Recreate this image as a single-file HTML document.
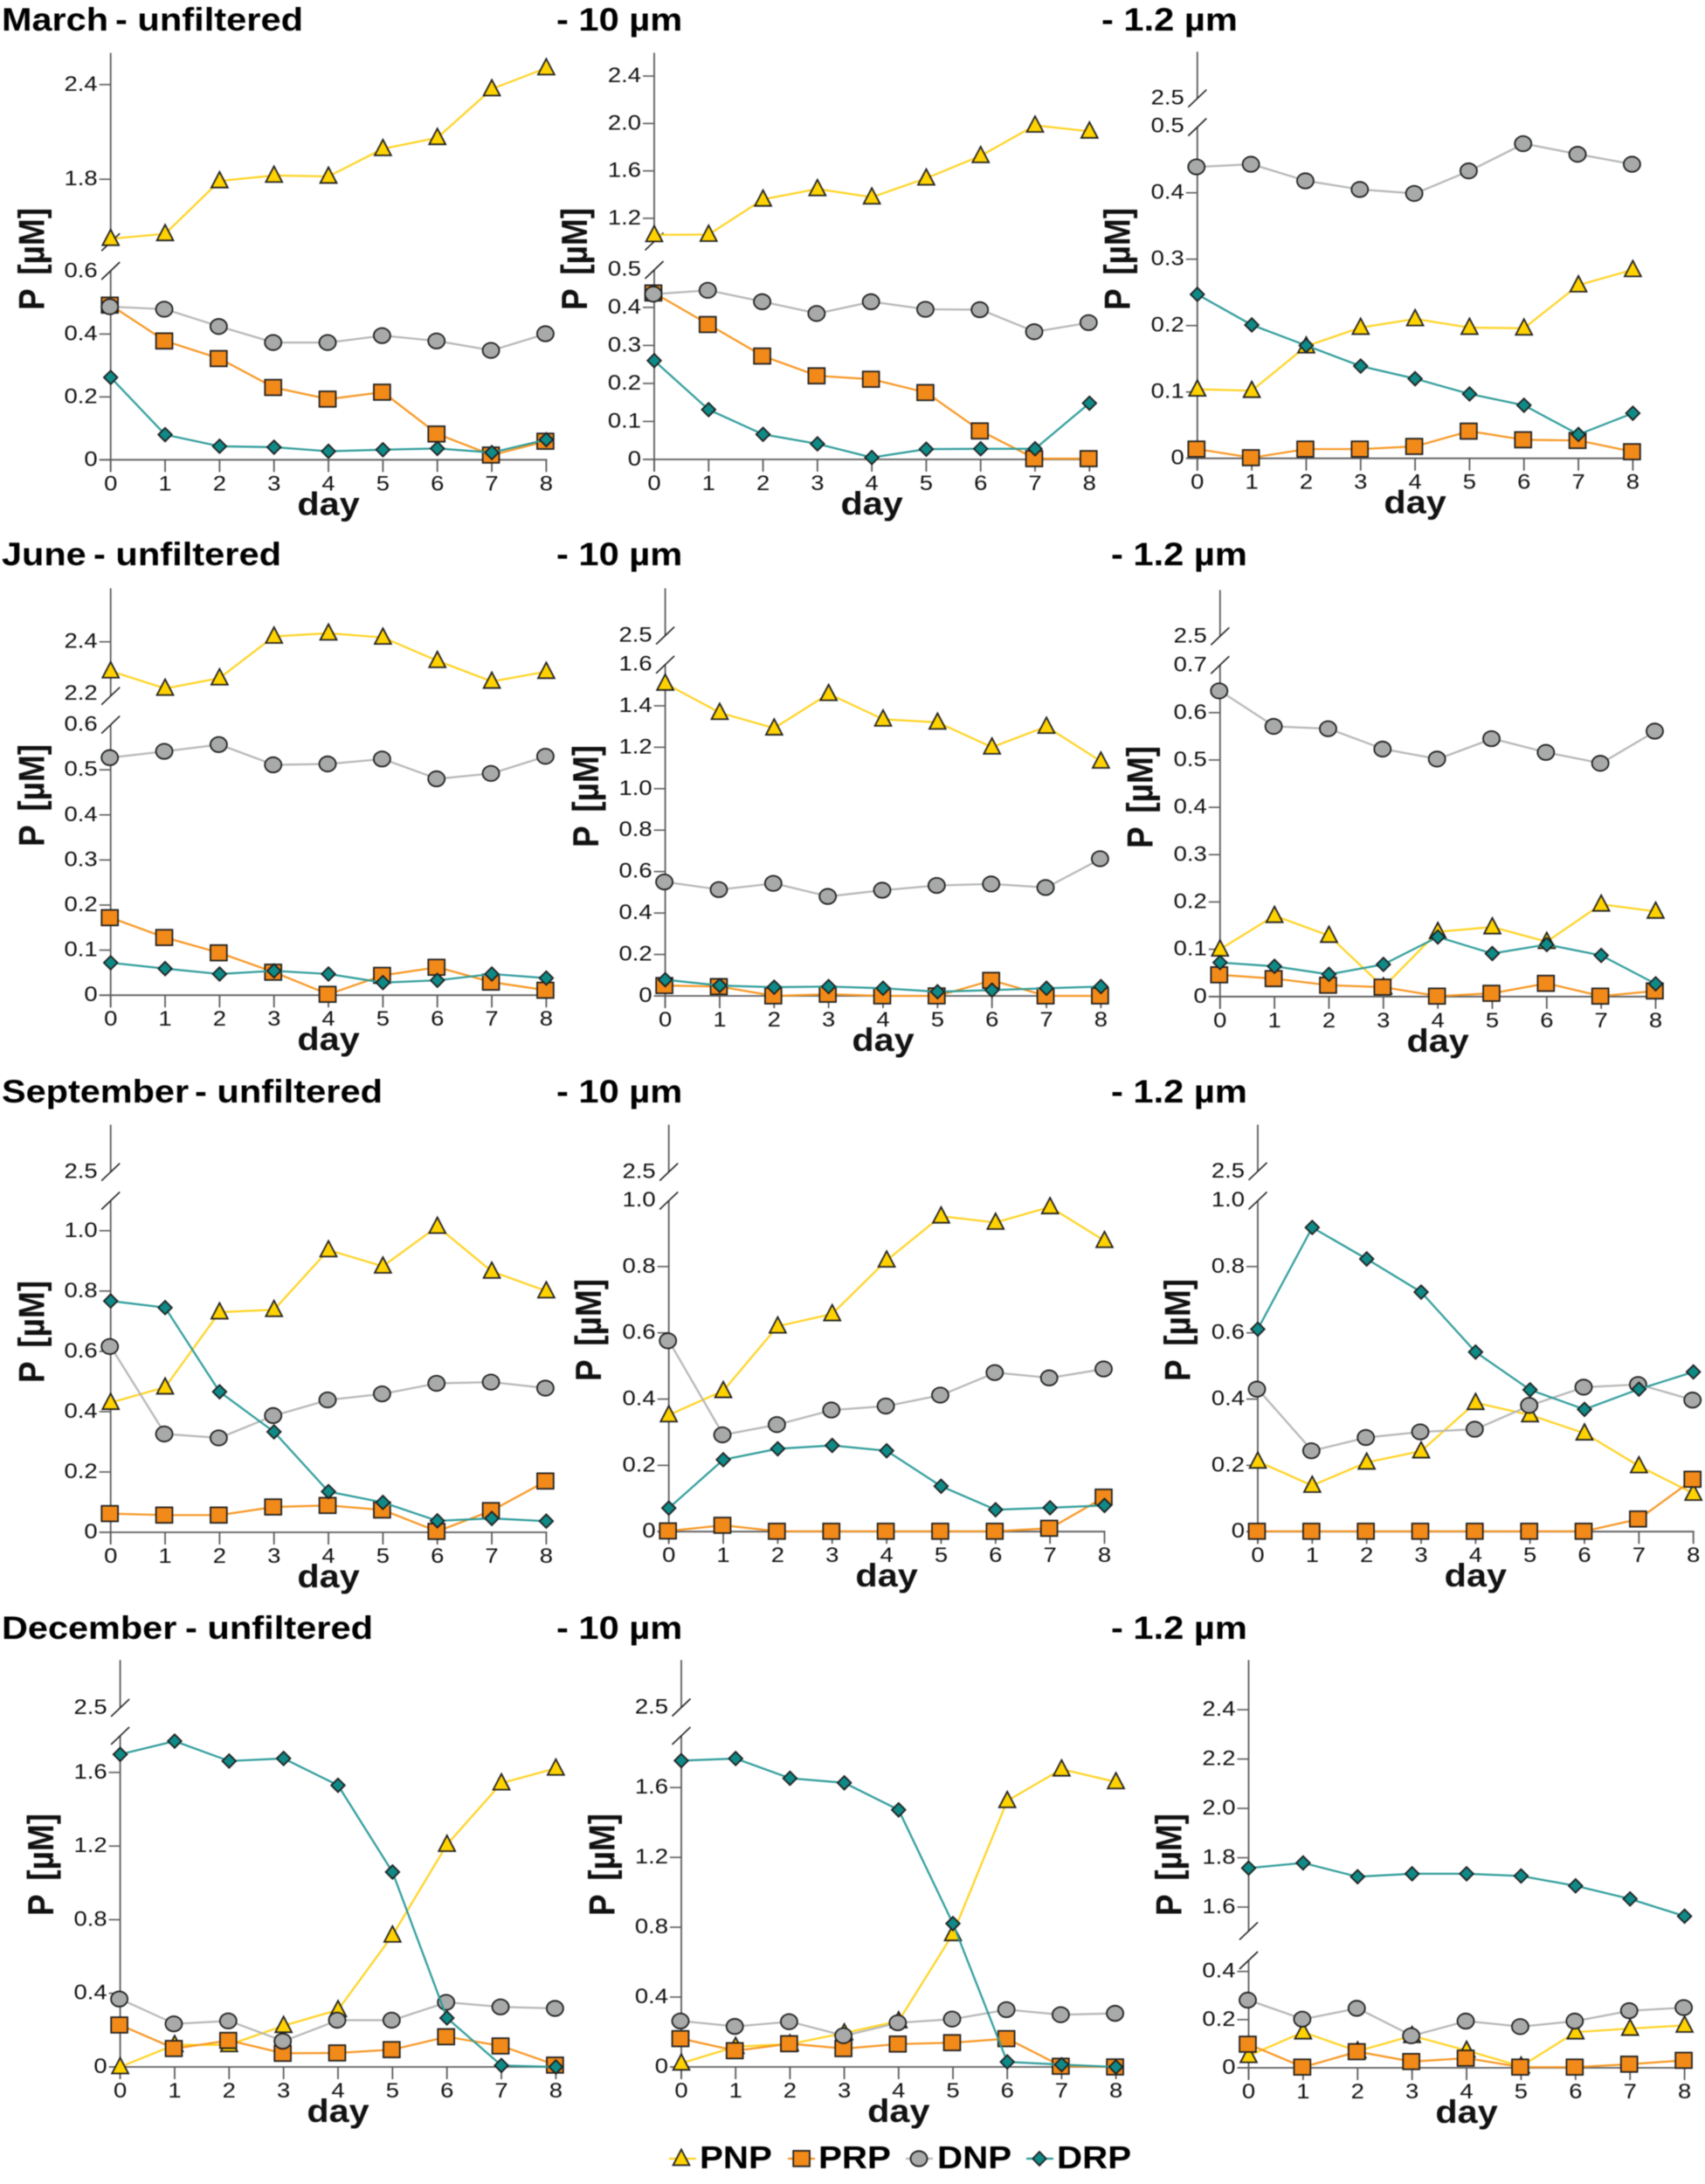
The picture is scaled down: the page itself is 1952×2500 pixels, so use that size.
<!DOCTYPE html>
<html lang="en">
<head>
<meta charset="utf-8">
<title>Phosphorus fractions by month and filter size</title>
<style>
html,body{margin:0;padding:0;background:#fff;}
svg{display:block;filter:blur(0.6px);}
text{font-family:"Liberation Sans",Arial,sans-serif;fill:#111;}
.title{font-size:37px;font-weight:700;fill:#000;}
.legend-label{font-size:36px;font-weight:700;fill:#000;}
</style>
</head>
<body>
<svg id="figure" xmlns="http://www.w3.org/2000/svg" width="1952" height="2500" viewBox="0 0 1952 2500">
  <rect x="0" y="0" width="1952" height="2500" fill="#ffffff"/>
  <g>
    <text class="title" transform="translate(2,35) scale(1.12,1)">March</text>
    <text class="title" transform="translate(132,35) scale(1.125,1)">- unfiltered</text>
    <text class="title" transform="translate(637,35) scale(1.125,1)">- 10 µm</text>
    <text class="title" transform="translate(1261,35) scale(1.125,1)">- 1.2 µm</text>
    <text class="title" transform="translate(2,647) scale(1.12,1)">June</text>
    <text class="title" transform="translate(107,647) scale(1.125,1)">- unfiltered</text>
    <text class="title" transform="translate(637,647) scale(1.125,1)">- 10 µm</text>
    <text class="title" transform="translate(1272,647) scale(1.125,1)">- 1.2 µm</text>
    <text class="title" transform="translate(2,1262) scale(1.12,1)">September</text>
    <text class="title" transform="translate(223,1262) scale(1.125,1)">- unfiltered</text>
    <text class="title" transform="translate(637,1262) scale(1.125,1)">- 10 µm</text>
    <text class="title" transform="translate(1272,1262) scale(1.125,1)">- 1.2 µm</text>
    <text class="title" transform="translate(2,1876) scale(1.12,1)">December</text>
    <text class="title" transform="translate(212,1876) scale(1.125,1)">- unfiltered</text>
    <text class="title" transform="translate(637,1876) scale(1.125,1)">- 10 µm</text>
    <text class="title" transform="translate(1272,1876) scale(1.125,1)">- 1.2 µm</text>
  </g>
  <g id="panels"></g>
  <g>
    <g>
      <line x1="766" y1="2471" x2="797" y2="2471" stroke="#FFD21E" stroke-width="2.2"/>
      <path d="M780,2460.5 L789.4,2478.5 L770.6,2478.5 Z" fill="#FFD200" stroke="#1e1e1e" stroke-width="1.8"/>
      <text class="legend-label" transform="translate(801,2482) scale(1.12,1)">PNP</text>
    </g>
    <g>
      <line x1="902" y1="2471" x2="933" y2="2471" stroke="#F7941D" stroke-width="2.2"/>
      <rect x="908.2" y="2462" width="18.8" height="17.8" fill="#F28A1A" stroke="#1e1e1e" stroke-width="1.8"/>
      <text class="legend-label" transform="translate(937,2482) scale(1.12,1)">PRP</text>
    </g>
    <g>
      <line x1="1037" y1="2471" x2="1068" y2="2471" stroke="#B5B5B5" stroke-width="2.2"/>
      <ellipse cx="1052" cy="2471" rx="9.5" ry="8.7" fill="#A8A9A9" stroke="#1e1e1e" stroke-width="1.8"/>
      <text class="legend-label" transform="translate(1073,2482) scale(1.12,1)">DNP</text>
    </g>
    <g>
      <line x1="1175" y1="2471" x2="1206" y2="2471" stroke="#2A9A98" stroke-width="2.2"/>
      <path d="M1190,2463 L1197.7,2471 L1190,2479 L1182.3,2471 Z" fill="#0F8A87" stroke="#1e1e1e" stroke-width="1.8"/>
      <text class="legend-label" transform="translate(1210,2482) scale(1.12,1)">DRP</text>
    </g>
  </g>
</svg>
<script>
// Shared categories
const days = [0, 1, 2, 3, 4, 5, 6, 7, 8];

// March
const marchUnfPNP = [1.423, 1.454, 1.789, 1.824, 1.818, 1.993, 2.063, 2.372, 2.505];
const marchUnfPRP = [0.492, 0.378, 0.322, 0.230, 0.193, 0.215, 0.082, 0.015, 0.059];
const marchUnfDNP = [0.487, 0.479, 0.424, 0.373, 0.373, 0.395, 0.378, 0.348, 0.401];
const marchUnfDRP = [0.262, 0.080, 0.043, 0.040, 0.027, 0.032, 0.036, 0.023, 0.064];
const march10PNP = [1.06, 1.063, 1.36, 1.448, 1.378, 1.538, 1.727, 1.984, 1.934];
const march10PRP = [0.438, 0.355, 0.272, 0.22, 0.211, 0.176, 0.075, 0.002, 0.002];
const march10DNP = [0.435, 0.445, 0.415, 0.384, 0.415, 0.395, 0.394, 0.336, 0.36];
const march10DRP = [0.26, 0.131, 0.066, 0.041, 0.005, 0.027, 0.028, 0.028, 0.148];
const march12PNP = [0.104, 0.102, 0.169, 0.197, 0.21, 0.197, 0.196, 0.261, 0.284];
const march12PRP = [0.014, 0.001, 0.014, 0.014, 0.018, 0.041, 0.028, 0.027, 0.010];
const march12DNP = [0.439, 0.443, 0.418, 0.405, 0.399, 0.433, 0.474, 0.458, 0.443];
const march12DRP = [0.247, 0.201, 0.170, 0.139, 0.120, 0.097, 0.080, 0.036, 0.068];

// June
const juneUnfPNP = [2.287, 2.22, 2.26, 2.421, 2.433, 2.417, 2.327, 2.247, 2.285];
const juneUnfPRP = [0.172, 0.128, 0.094, 0.051, 0.002, 0.044, 0.062, 0.029, 0.011];
const juneUnfDNP = [0.527, 0.541, 0.556, 0.511, 0.513, 0.524, 0.48, 0.492, 0.53];
const juneUnfDRP = [0.072, 0.059, 0.047, 0.054, 0.047, 0.028, 0.033, 0.047, 0.038];
const june10PNP = [1.508, 1.367, 1.292, 1.458, 1.335, 1.32, 1.2, 1.3, 1.132];
const june10PRP = [0.05, 0.045, 0, 0.008, 0, 0, 0.075, 0, 0];
const june10DNP = [0.55, 0.513, 0.543, 0.48, 0.51, 0.533, 0.54, 0.523, 0.662];
const june10DRP = [0.078, 0.05, 0.042, 0.045, 0.037, 0.02, 0.028, 0.037, 0.045];
const june12PNP = [0.10, 0.171, 0.129, 0.02, 0.137, 0.147, 0.116, 0.195, 0.18];
const june12PRP = [0.046, 0.038, 0.024, 0.02, 0.001, 0.007, 0.028, 0.001, 0.012];
const june12DNP = [0.646, 0.571, 0.566, 0.523, 0.502, 0.545, 0.516, 0.493, 0.561];
const june12DRP = [0.072, 0.064, 0.047, 0.068, 0.126, 0.091, 0.11, 0.087, 0.027];

// September
const septUnfPNP = [0.43, 0.481, 0.73, 0.738, 0.936, 0.882, 1.014, 0.865, 0.80];
const septUnfPRP = [0.062, 0.057, 0.057, 0.084, 0.089, 0.074, 0.003, 0.072, 0.17];
const septUnfDNP = [0.616, 0.326, 0.313, 0.387, 0.439, 0.459, 0.494, 0.498, 0.478];
const septUnfDRP = [0.767, 0.745, 0.466, 0.333, 0.135, 0.099, 0.038, 0.046, 0.037];
const sept10PNP = [0.352, 0.425, 0.62, 0.657, 0.819, 0.952, 0.933, 0.98, 0.878];
const sept10PRP = [0.002, 0.019, 0.001, 0.001, 0.001, 0.001, 0.001, 0.010, 0.104];
const sept10DNP = [0.576, 0.292, 0.323, 0.367, 0.379, 0.412, 0.48, 0.464, 0.491];
const sept10DRP = [0.071, 0.217, 0.25, 0.26, 0.244, 0.137, 0.066, 0.072, 0.079];
const sept12PNP = [0.212, 0.139, 0.209, 0.243, 0.389, 0.352, 0.297, 0.198, 0.115];
const sept12PRP = [0.001, 0.001, 0.001, 0.001, 0.001, 0.001, 0.001, 0.038, 0.158];
const sept12DNP = [0.43, 0.244, 0.284, 0.301, 0.309, 0.381, 0.436, 0.444, 0.397];
const sept12DRP = [0.611, 0.918, 0.823, 0.723, 0.542, 0.428, 0.369, 0.43, 0.482];

// December
const decUnfPNP = [0, 0.12, 0.12, 0.224, 0.31, 0.715, 1.208, 1.542, 1.622];
const decUnfPRP = [0.228, 0.1, 0.144, 0.074, 0.076, 0.094, 0.164, 0.114, 0.01];
const decUnfDNP = [0.369, 0.234, 0.25, 0.14, 0.254, 0.254, 0.351, 0.326, 0.318];
const decUnfDRP = [1.698, 1.77, 1.662, 1.676, 1.53, 1.059, 0.266, 0.008, 0];
const dec10PNP = [0.021, 0.116, 0.131, 0.194, 0.263, 0.762, 1.524, 1.705, 1.632];
const dec10PRP = [0.162, 0.093, 0.133, 0.105, 0.131, 0.139, 0.162, 0.004, 0];
const dec10DNP = [0.263, 0.232, 0.259, 0.179, 0.253, 0.274, 0.328, 0.299, 0.307];
const dec10DRP = [1.754, 1.766, 1.653, 1.627, 1.472, 0.821, 0.029, 0.013, 0];
const dec12PNP = [0.05, 0.148, 0.069, 0.133, 0.072, 0.006, 0.148, 0.163, 0.176];
const dec12PRP = [0.098, 0.003, 0.067, 0.026, 0.04, 0.003, 0.003, 0.015, 0.031];
const dec12DNP = [0.281, 0.202, 0.247, 0.133, 0.194, 0.171, 0.194, 0.237, 0.25];
const dec12DRP = [1.758, 1.779, 1.723, 1.735, 1.735, 1.726, 1.686, 1.633, 1.563];

// Tick labels
const ticksLowMarchUnf = [0, 0.2, 0.4, 0.6];
const ticksUpMarchUnf = [1.8, 2.4];
const ticksLowMarch10 = [0, 0.1, 0.2, 0.3, 0.4, 0.5];
const ticksUpMarch10 = [1.2, 1.6, 2.0, 2.4];
const ticksLowMarch12 = [0, 0.1, 0.2, 0.3, 0.4, 0.5];
const ticksLowJuneUnf = [0, 0.1, 0.2, 0.3, 0.4, 0.5, 0.6];
const ticksUpJuneUnf = [2.2, 2.4];
const ticksLowJune10 = [0, 0.2, 0.4, 0.6, 0.8, 1.0, 1.2, 1.4, 1.6];
const ticksLowJune12 = [0, 0.1, 0.2, 0.3, 0.4, 0.5, 0.6, 0.7];
const ticksLowSept = [0, 0.2, 0.4, 0.6, 0.8, 1.0];
const ticksLowDec = [0, 0.4, 0.8, 1.2, 1.6];
const ticksLowDec12 = [0, 0.2, 0.4];
const ticksUpDec12 = [1.6, 1.8, 2.0, 2.2, 2.4];
const ticksUpBreakOnly = [2.5];

// Series styling
const seriesStyles = [
  {key: 'pnp', line: '#FFD21E', fill: '#FFD200', shape: 'triangle'},
  {key: 'prp', line: '#F7941D', fill: '#F28A1A', shape: 'square'},
  {key: 'dnp', line: '#B5B5B5', fill: '#A8A9A9', shape: 'circle'},
  {key: 'drp', line: '#2A9A98', fill: '#0F8A87', shape: 'diamond'}
];

// Panel layout: pixel geometry plus references to the data arrays
const panels = [
  {id:'march-unfiltered', x0:126.7, x8:625.4, y0:526.3, top:60.5, brkU:277.2, brkL:310, lowUnit:359.8, lowMax:0.6, upV:1.8, upY:205.2, upUnit:180.6, lowT:ticksLowMarchUnf, upT:ticksUpMarchUnf, labelX:50.5, labelY:355, s:[marchUnfPNP,marchUnfPRP,marchUnfDNP,marchUnfDRP]},
  {id:'march-10um', x0:749, x8:1247.3, y0:525.9, top:60.5, brkU:276.4, brkL:309, lowUnit:435, lowMax:0.5, upV:1.2, upY:249.9, upUnit:135.7, lowT:ticksLowMarch10, upT:ticksUpMarch10, labelX:671.8, labelY:355, s:[march10PNP,march10PRP,march10DNP,march10DRP]},
  {id:'march-1-2um', x0:1370.8, x8:1869.4, y0:524.7, top:59.3, brkU:112.7, brkL:145.5, lowUnit:760, lowMax:0.5, upV:2.5, upY:112.7, upUnit:100, lowT:ticksLowMarch12, upT:ticksUpBreakOnly, labelX:1293.6, labelY:355, s:[march12PNP,march12PRP,march12DNP,march12DRP]},
  {id:'june-unfiltered', x0:126.7, x8:625.4, y0:1139.2, top:673.4, brkU:796.7, brkL:829.6, lowUnit:516, lowMax:0.6, upV:2.4, upY:734.7, upUnit:296.6, lowT:ticksLowJuneUnf, upT:ticksUpJuneUnf, labelX:50.5, labelY:969, s:[juneUnfPNP,juneUnfPRP,juneUnfDNP,juneUnfDRP]},
  {id:'june-10um', x0:761.6, x8:1260.4, y0:1140, top:673.4, brkU:727.6, brkL:760.8, lowUnit:237.2, lowMax:1.6, upV:2.5, upY:727.6, upUnit:100, lowT:ticksLowJune10, upT:ticksUpBreakOnly, labelX:684.9, labelY:970, s:[june10PNP,june10PRP,june10DNP,june10DRP]},
  {id:'june-1-2um', x0:1396.8, x8:1895.5, y0:1140.8, top:675.4, brkU:728.3, brkL:761.2, lowUnit:541.7, lowMax:0.7, upV:2.5, upY:728.3, upUnit:100, lowT:ticksLowJune12, upT:ticksUpBreakOnly, labelX:1319.6, labelY:971, s:[june12PNP,june12PRP,june12DNP,june12DRP]},
  {id:'september-unfiltered', x0:126.7, x8:625.4, y0:1754, top:1287.4, brkU:1341.6, brkL:1374.4, lowUnit:345.2, lowMax:1.1, upV:2.5, upY:1341.6, upUnit:100, lowT:ticksLowSept, upT:ticksUpBreakOnly, labelX:50.5, labelY:1583, s:[septUnfPNP,septUnfPRP,septUnfDNP,septUnfDRP]},
  {id:'september-10um', x0:765.7, x8:1264.5, y0:1753.2, top:1287.4, brkU:1341.6, brkL:1374.4, lowUnit:379.2, lowMax:1.05, upV:2.5, upY:1341.6, upUnit:100, lowT:ticksLowSept, upT:ticksUpBreakOnly, labelX:688, labelY:1581, s:[sept10PNP,sept10PRP,sept10DNP,sept10DRP]},
  {id:'september-1-2um', x0:1440, x8:1938.7, y0:1753.2, top:1287.4, brkU:1340.8, brkL:1374.4, lowUnit:379.2, lowMax:1.05, upV:2.5, upY:1340.8, upUnit:100, lowT:ticksLowSept, upT:ticksUpBreakOnly, labelX:1362.4, labelY:1581, s:[sept12PNP,sept12PRP,sept12DNP,sept12DRP]},
  {id:'december-unfiltered', x0:137.6, x8:636.4, y0:2366, top:1900.2, brkU:1954.9, brkL:1986.9, lowUnit:210.7, lowMax:1.8, upV:2.5, upY:1954.9, upUnit:100, lowT:ticksLowDec, upT:ticksUpBreakOnly, labelX:61, labelY:2193, s:[decUnfPNP,decUnfPRP,decUnfDNP,decUnfDRP]},
  {id:'december-10um', x0:780, x8:1277.6, y0:2366, top:1900.2, brkU:1954.5, brkL:1986.9, lowUnit:199.9, lowMax:1.9, upV:2.5, upY:1954.5, upUnit:100, lowT:ticksLowDec, upT:ticksUpBreakOnly, labelX:703.3, labelY:2193, s:[dec10PNP,dec10PRP,dec10DNP,dec10DRP]},
  {id:'december-1-2um', x0:1429.5, x8:1928.6, y0:2367, top:1900.2, brkU:2210.4, brkL:2244, lowUnit:275.7, lowMax:0.45, upV:1.6, upY:2183, upUnit:282.4, lowT:ticksLowDec12, upT:ticksUpDec12, labelX:1352.7, labelY:2193, s:[dec12PNP,dec12PRP,dec12DNP,dec12DRP]}
];

const SVGNS = 'http://www.w3.org/2000/svg';
const AXIS = '#5a5a5a';
const INK = '#1e1e1e';

function el(tag, parent, attrs) {
  const node = document.createElementNS(SVGNS, tag);
  for (const k in attrs) node.setAttribute(k, attrs[k]);
  parent.appendChild(node);
  return node;
}
function xScale(p, day) {
  return p.x0 + day * (p.x8 - p.x0) / 8;
}
function yScale(p, v) {
  if (v > p.lowMax) return p.upY - (v - p.upV) * p.upUnit;
  return p.y0 - v * p.lowUnit;
}
function fmt(v) {
  return v === 0 ? '0' : v.toFixed(1);
}
function label(parent, str, x, y, size, weight, anchor, transform) {
  const t = el('text', parent, {'font-size': size, 'font-weight': weight, 'text-anchor': anchor, transform: transform || ('translate(' + x + ',' + y + ') scale(1.12,1)')});
  t.textContent = str;
  return t;
}
function drawMarker(parent, shape, fill, cx, cy) {
  let m;
  const st = {fill: fill, stroke: INK, 'stroke-width': 1.8};
  if (shape === 'triangle') {
    m = el('path', parent, Object.assign({d: 'M' + cx + ',' + (cy - 10.5) + ' L' + (cx + 9.4) + ',' + (cy + 7.5) + ' L' + (cx - 9.4) + ',' + (cy + 7.5) + ' Z'}, st));
  } else if (shape === 'square') {
    m = el('rect', parent, Object.assign({x: cx - 1 - 9.4, y: cy - 8.9, width: 18.8, height: 17.8}, st));
  } else if (shape === 'circle') {
    m = el('ellipse', parent, Object.assign({cx: cx - 1, cy: cy, rx: 9.5, ry: 8.7}, st));
  } else {
    m = el('path', parent, Object.assign({d: 'M' + cx + ',' + (cy - 7.8) + ' L' + (cx + 7.8) + ',' + cy + ' L' + cx + ',' + (cy + 7.8) + ' L' + (cx - 7.8) + ',' + cy + ' Z'}, st));
  }
  return m;
}

const root = document.getElementById('panels');

panels.forEach(function (p) {
  const g = el('g', root, {});
  
  

  // Y axis with break
  const yUp = el('line', g, {x1: p.x0, x2: p.x0, y1: p.top, y2: p.brkU, stroke: AXIS, 'stroke-width': 1.8});
  
  
  const yLow = el('line', g, {x1: p.x0, x2: p.x0, y1: p.brkL, y2: p.y0 + 14, stroke: AXIS, 'stroke-width': 1.8});
  
  
  [p.brkU, p.brkL].forEach(function (by) {
    const slash = el('line', g, {x1: p.x0 - 10.5, y1: by + 10, x2: p.x0 + 10.5, y2: by - 10, stroke: INK, 'stroke-width': 1.6});
    
    
  });

  // X axis
  const xAxis = el('line', g, {x1: p.x0 - 13, x2: p.x8 + 1, y1: p.y0, y2: p.y0, stroke: AXIS, 'stroke-width': 1.8});
  
  
  days.forEach(function (d) {
    const x = xScale(p, d);
    const tick = el('line', g, {x1: x, x2: x, y1: p.y0, y2: p.y0 + 14, stroke: AXIS, 'stroke-width': 1.8});
    
    
    const tl = label(g, String(d), x, p.y0 + 35, 24.5, 400, 'middle');
    
    
  });

  // Y ticks
  p.lowT.concat(p.upT).forEach(function (v) {
    const y = yScale(p, v);
    if (Math.abs(y - p.brkU) > 7 && Math.abs(y - p.brkL) > 7 && v !== 0) {
      const tick = el('line', g, {x1: p.x0 - 13, x2: p.x0, y1: y, y2: y, stroke: AXIS, 'stroke-width': 1.6});
      
      
    }
    const tl = label(g, fmt(v), p.x0 - 15, y + 7, 24.5, 400, 'end');
    
    
  });

  // Axis titles
  const xt = label(g, 'day', xScale(p, 4), p.y0 + 63, 37, 700, 'middle');
  
  
  const yt = label(g, 'P [µM]', 0, 0, 37, 700, 'start', 'translate(' + p.labelX + ',' + p.labelY + ') rotate(-90) scale(1,1.12)');
  yt.setAttribute('word-spacing', '6');
  
  

  // Series
  seriesStyles.forEach(function (style, i) {
    const values = p.s[i];
    const sg = el('g', g, {});
    
    
    const pts = values.map(function (v, d) {
      return xScale(p, days[d]) + ',' + yScale(p, v);
    }).join(' ');
    const line = el('polyline', sg, {points: pts, fill: 'none', stroke: style.line, 'stroke-width': 2.2});
    
    
    values.forEach(function (v, d) {
      const marker = drawMarker(sg, style.shape, style.fill, xScale(p, days[d]), yScale(p, v));
      
      
    });
  });
});
</script>
</body>
</html>
